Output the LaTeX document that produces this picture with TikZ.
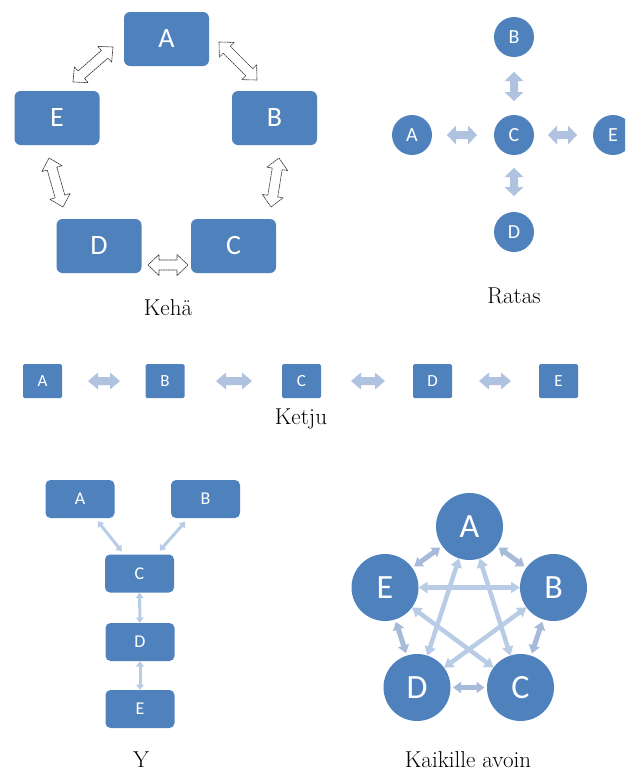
\documentclass[tikz,border=0pt]{standalone}
\usepackage{fontspec}
\newfontfamily\lbl{Carlito}
\usetikzlibrary{calc,arrows.meta}

\definecolor{boxblue}{HTML}{4F81BD}
\definecolor{linkblue}{HTML}{AFC2E0}
\definecolor{starblue}{HTML}{B9CCE5}
\definecolor{ringblue}{HTML}{A8BAD9}

% Hollow/filled double block arrow between two named points:
% #1 style, #2 #3 tips, #4 head length, #5 half head width, #6 half shaft width
\newcommand\twoheads[6]{%
  \path[#1] (#2)
    -- ($(#2)!#4!(#3)!#5!90:(#3)$)
    -- ($(#2)!#4!(#3)!#6!90:(#3)$)
    -- ($(#3)!#4!(#2)!#6!-90:(#2)$)
    -- ($(#3)!#4!(#2)!#5!-90:(#2)$)
    -- (#3)
    -- ($(#3)!#4!(#2)!#5!90:(#2)$)
    -- ($(#3)!#4!(#2)!#6!90:(#2)$)
    -- ($(#2)!#4!(#3)!#6!-90:(#3)$)
    -- ($(#2)!#4!(#3)!#5!-90:(#3)$)
    -- cycle;}

\tikzset{
  caption/.style={anchor=base, inner sep=0pt, font=\fontsize{23}{23}\selectfont},
  kbox/.style={fill=boxblue, rounded corners=6pt, minimum width=85pt, minimum height=54pt,
    inner sep=0pt, outer sep=0pt, text=white, font=\lbl\fontsize{28}{28}\selectfont},
  hollow/.style={fill=white, draw=black!80, line width=0.6pt, dash pattern=on 2pt off 0.5pt, line join=round},
  rdot/.style={circle, fill=boxblue, minimum size=40pt, inner sep=0pt, outer sep=0pt,
    text=white, font=\lbl\fontsize{20}{20}\selectfont},
  pale/.style={fill=linkblue},
  cbox/.style={fill=boxblue, rounded corners=1.5pt, minimum width=39pt, minimum height=34pt,
    inner sep=0pt, outer sep=0pt, text=white, font=\lbl\fontsize{17}{17}\selectfont},
  ybox/.style={fill=boxblue, rounded corners=5pt, minimum width=69pt, minimum height=38pt,
    inner sep=0pt, outer sep=0pt, text=white, font=\lbl\fontsize{18}{18}\selectfont},
  ylink/.style={draw=starblue, line width=3pt,
    {Triangle[width=7.5pt,length=5.5pt]}-{Triangle[width=7.5pt,length=5.5pt]}},
  bigdot/.style={circle, fill=boxblue, minimum size=67pt, inner sep=0pt, outer sep=0pt,
    text=white, font=\lbl\fontsize{34}{34}\selectfont},
  ringlink/.style={draw=ringblue, line width=5pt, shorten <=2.5pt, shorten >=2.5pt,
    {Triangle[width=11pt,length=8pt]}-{Triangle[width=11pt,length=8pt]}},
  starlink/.style={draw=starblue, line width=4.5pt,
    {Triangle[width=11pt,length=9pt]}-{Triangle[width=11pt,length=9pt]}},
}

\begin{document}
\begin{tikzpicture}[x=1pt, y=-1pt]
\useasboundingbox (0,0) rectangle (625,772);
\clip (0,0) rectangle (625,772);

% ---------- Kehä ----------
\node[kbox] (kA) at (166.5,39) {A};
\node[kbox] (kB) at (274.5,118) {B};
\node[kbox] (kC) at (233.5,246) {C};
\node[kbox] (kD) at (99,246) {D};
\node[kbox] (kE) at (57,118) {E};
\coordinate (ea1) at (73,82);   \coordinate (ea2) at (113,47);
\coordinate (ab1) at (219,42);  \coordinate (ab2) at (257,80);
\coordinate (bc1) at (279,158); \coordinate (bc2) at (271,207);
\coordinate (cd1) at (188,265); \coordinate (cd2) at (148,265);
\coordinate (de1) at (63,207);  \coordinate (de2) at (49,158);
\twoheads{hollow}{ea1}{ea2}{11pt}{10.5pt}{5pt}
\twoheads{hollow}{ab1}{ab2}{11pt}{10.5pt}{5pt}
\twoheads{hollow}{bc1}{bc2}{11pt}{10.5pt}{5pt}
\twoheads{hollow}{cd1}{cd2}{11pt}{10.5pt}{5pt}
\twoheads{hollow}{de1}{de2}{11pt}{10.5pt}{5pt}
\node[caption] (kcap) at (168,315) {Kehä};

% ---------- Ratas ----------
\node[rdot] (rB) at (514,37) {B};
\node[rdot] (rC) at (514,135) {C};
\node[rdot] (rD) at (514,232) {D};
\node[rdot] (rA) at (412,135) {A};
\node[rdot] (rE) at (613,135) {E};
\coordinate (rbc1) at (514,72);  \coordinate (rbc2) at (514,101);
\coordinate (rcd1) at (514,168); \coordinate (rcd2) at (514,196);
\coordinate (rac1) at (447,135); \coordinate (rac2) at (477,135);
\coordinate (rce1) at (548,135); \coordinate (rce2) at (577,135);
\twoheads{pale}{rbc1}{rbc2}{9pt}{9.5pt}{4pt}
\twoheads{pale}{rcd1}{rcd2}{9pt}{9.5pt}{4pt}
\twoheads{pale}{rac1}{rac2}{9pt}{9.5pt}{4pt}
\twoheads{pale}{rce1}{rce2}{9pt}{9.5pt}{4pt}
\node[caption] (rcap) at (514,303) {Ratas};

% ---------- Ketju ----------
\node[cbox] (cA) at (42.5,381) {A};
\node[cbox] (cB) at (165,381) {B};
\node[cbox] (cC) at (301.5,381) {C};
\node[cbox] (cD) at (432.5,381) {D};
\node[cbox] (cE) at (558.5,381) {E};
\coordinate (cab1) at (88,381);  \coordinate (cab2) at (120,381);
\coordinate (cbc1) at (216,381); \coordinate (cbc2) at (252,381);
\coordinate (ccd1) at (351,381); \coordinate (ccd2) at (385,381);
\coordinate (cde1) at (479,381); \coordinate (cde2) at (511,381);
\twoheads{pale}{cab1}{cab2}{10pt}{8.5pt}{4pt}
\twoheads{pale}{cbc1}{cbc2}{10pt}{8.5pt}{4pt}
\twoheads{pale}{ccd1}{ccd2}{10pt}{8.5pt}{4pt}
\twoheads{pale}{cde1}{cde2}{10pt}{8.5pt}{4pt}
\node[caption] (ccap) at (301,424) {Ketju};

% ---------- Y ----------
\node[ybox] (yA) at (80,499) {A};
\node[ybox] (yB) at (205.5,499) {B};
\node[ybox] (yC) at (139.5,573.5) {C};
\node[ybox] (yD) at (140,642) {D};
\node[ybox] (yE) at (140,709) {E};
\draw[ylink, shorten <=4pt, shorten >=4pt] (yA) -- (yC);
\draw[ylink, shorten <=5pt, shorten >=5pt] (yB) -- (yC);
\draw[ylink] (yC) -- (yD);
\draw[ylink] (yD) -- (yE);
\node[caption] (ycap) at (141,767) {Y};

% ---------- Kaikille avoin ----------
\node[bigdot] (aA) at (469.5,526.5) {A};
\node[bigdot] (aB) at (553.5,587.5) {B};
\node[bigdot] (aC) at (520.5,687.5) {C};
\node[bigdot] (aD) at (417,687.5) {D};
\node[bigdot] (aE) at (385,587.5) {E};
\draw[starlink] (aE) -- (aB);
\draw[starlink] (aA) -- (aD);
\draw[starlink] (aA) -- (aC);
\draw[starlink] (aE) -- (aC);
\draw[starlink] (aB) -- (aD);
\draw[ringlink] (aE) -- (aA);
\draw[ringlink] (aA) -- (aB);
\draw[ringlink] (aB) -- (aC);
\draw[ringlink] (aD) -- (aC);
\draw[ringlink] (aE) -- (aD);
\node[caption] (acap) at (468,767) {Kaikille avoin};
\end{tikzpicture}
\end{document}
